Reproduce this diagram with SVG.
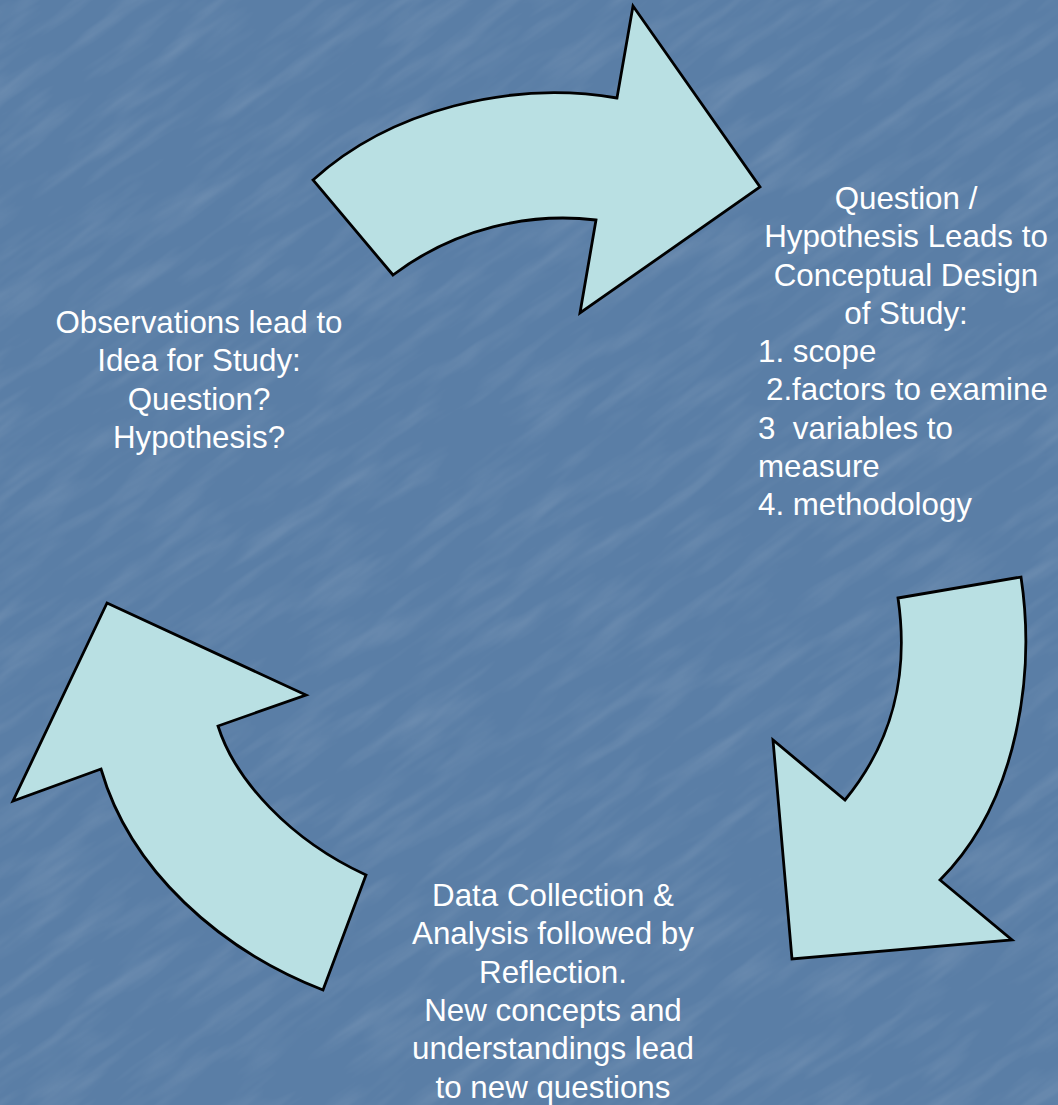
<svg xmlns="http://www.w3.org/2000/svg" width="1058" height="1105" viewBox="0 0 1058 1105">
<defs>
<style>
.arrow{fill:#b9e0e3;stroke:#000;stroke-width:2.8;stroke-linejoin:miter}
.t{font-family:"Liberation Sans",Arial,sans-serif;font-size:31.3px;fill:#fff}
.c{text-anchor:middle}
</style>
<filter id="tex" x="0" y="0" width="100%" height="100%" filterUnits="objectBoundingBox">
<feTurbulence type="fractalNoise" baseFrequency="0.01 0.06" numOctaves="3" seed="7" result="n"/>
<feColorMatrix in="n" type="matrix" values="0 0 0 0 1  0 0 0 0 1  0 0 0 0 1  0 0 0 0.6 -0.26"/>
</filter>
</defs>
<rect width="1058" height="1105" fill="#5a7ea6"/>
<rect x="-600" y="-600" width="2300" height="2300" filter="url(#tex)" opacity="0.35" transform="rotate(-35 529 552)"/>
<g id="connectors">
<path id="arrow-top" class="arrow" d="M313,180 C390,110 510,80 617,98 L633,6 L760,187 L580,313 L596,220 C530,212 455,228 393,275 Z"/>
<path id="arrow-right" class="arrow" d="M898,598 L1021,577 C1035,670 1020,800 940,880 L1012,940 L792,959 L773,740 L845,800 C890,745 910,680 898,598 Z"/>
<path id="arrow-left" class="arrow" d="M107,603 L306,695 L218,726 C235,780 290,840 366,875 L323,990 C220,950 130,870 101,769 L13,801 Z"/>
</g>
<g id="node-observations">
<text class="t c" x="199" y="333">Observations lead to</text>
<text class="t c" x="199" y="371">Idea for Study:</text>
<text class="t c" x="199" y="410">Question?</text>
<text class="t c" x="199" y="448">Hypothesis?</text>
</g>
<g id="node-design">
<text class="t c" x="906" y="209">Question /</text>
<text class="t c" x="906" y="247">Hypothesis Leads to</text>
<text class="t c" x="906" y="286">Conceptual Design</text>
<text class="t c" x="906" y="324">of Study:</text>
<text class="t" x="758" y="362">1. scope</text>
<text class="t" x="766" y="400">2.factors to examine</text>
<text class="t" x="758" y="439" xml:space="preserve">3  variables to</text>
<text class="t" x="758" y="477">measure</text>
<text class="t" x="758" y="515">4. methodology</text>
</g>
<g id="node-data">
<text class="t c" x="553" y="906">Data Collection &amp;</text>
<text class="t c" x="553" y="944">Analysis followed by</text>
<text class="t c" x="553" y="983">Reflection.</text>
<text class="t c" x="553" y="1021">New concepts and</text>
<text class="t c" x="553" y="1059">understandings lead</text>
<text class="t c" x="553" y="1098">to new questions</text>
</g>
</svg>
